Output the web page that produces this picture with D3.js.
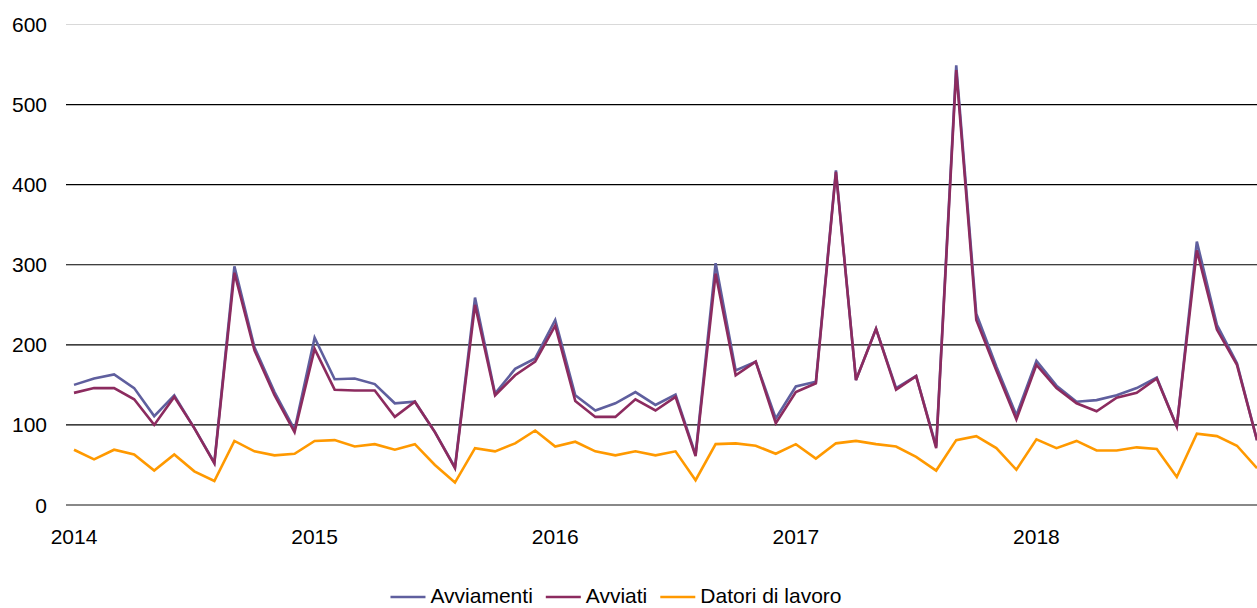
<!DOCTYPE html>
<html>
<head>
<meta charset="utf-8">
<script src="https://cdn.jsdelivr.net/npm/d3@7"></script>
<style>
  body { margin: 0; background: #fff; }
  text { font-family: "Liberation Sans", Arial, sans-serif; fill: #000; }
</style>
</head>
<body>
<div id="chart"></div>
<script>
// monthly values, Jan 2014 .. Dec 2018
var avviamenti = [150, 158, 163, 146, 111, 137, 96, 53, 298, 197, 141, 94,
                  209, 157, 158, 151, 127, 129, 91, 47, 259, 139, 170, 183,
                  231, 137, 118, 127, 141, 125, 138, 63, 302, 168, 179, 108,
                  148, 154, 418, 156, 220, 146, 161, 73, 549, 239, 173, 112,
                  180, 149, 129, 131, 137, 146, 159, 98, 329, 225, 177, 81];
var avviati = [140, 146, 146, 132, 100, 135, 96, 52, 290, 193, 137, 91,
               195, 144, 143, 143, 110, 129, 91, 46, 250, 137, 162, 179,
               224, 130, 110, 110, 132, 118, 135, 61, 289, 162, 179, 102,
               141, 152, 416, 156, 220, 144, 161, 71, 543, 231, 168, 107,
               175, 146, 127, 117, 134, 140, 158, 98, 318, 219, 175, 81];
var datori = [69, 57, 69, 63, 43, 63, 42, 30, 80, 67, 62, 64,
              80, 81, 73, 76, 69, 76, 50, 28, 71, 67, 77, 93,
              73, 79, 67, 62, 67, 62, 67, 31, 76, 77, 74, 64,
              76, 58, 77, 80, 76, 73, 60, 43, 81, 86, 71, 44,
              82, 71, 80, 68, 68, 72, 70, 35, 89, 86, 74, 46];
var years = ["2014", "2015", "2016", "2017", "2018"];
var yTicks = [0, 100, 200, 300, 400, 500, 600];

var series = [
  {name: "Avviamenti", values: avviamenti, color: "#5f5f9e"},
  {name: "Avviati", values: avviati, color: "#8c2b5f"},
  {name: "Datori di lavoro", values: datori, color: "#ff9900"}
];

var width = 1257, height = 608;

var x = d3.scaleLinear().domain([0, 59]).range([74, 1257]);
var y = d3.scaleLinear().domain([0, 600]).range([505, 24.5]);

var svg = d3.select("#chart").append("svg")
    .attr("width", width)
    .attr("height", height);

svg.append("rect").attr("width", width).attr("height", height).attr("fill", "#fff");

// gridlines
svg.append("g").selectAll("line")
    .data(yTicks.filter(function(d) { return d > 0; }))
    .enter().append("line")
    .attr("x1", 66).attr("x2", width)
    .attr("y1", function(d) { return y(d); })
    .attr("y2", function(d) { return y(d); })
    .attr("stroke", function(d) { return d == 600 ? "#d9d9d9" : "#000"; })
    .attr("stroke-width", 1.2);

// zero line
svg.append("line")
    .attr("x1", 66).attr("x2", width)
    .attr("y1", y(0)).attr("y2", y(0))
    .attr("stroke", "#888")
    .attr("stroke-width", 2);

// y labels
svg.append("g").selectAll("text")
    .data(yTicks)
    .enter().append("text")
    .attr("x", 47)
    .attr("y", function(d) { return y(d); })
    .attr("dy", "0.36em")
    .attr("text-anchor", "end")
    .style("font-size", "21px")
    .text(function(d) { return d; });

// x labels
svg.append("g").selectAll("text")
    .data(years)
    .enter().append("text")
    .attr("x", function(d, i) { return x(i * 12); })
    .attr("y", 544)
    .attr("text-anchor", "middle")
    .style("font-size", "21px")
    .text(function(d) { return d; });

var line = d3.line()
    .x(function(d, i) { return x(i); })
    .y(function(d) { return y(d); });

svg.append("g").selectAll("path")
    .data(series)
    .enter().append("path")
    .attr("d", function(s) { return line(s.values); })
    .attr("fill", "none")
    .attr("stroke", function(s) { return s.color; })
    .attr("stroke-width", 2.6)
    .attr("stroke-linejoin", "miter");

// legend
var legend = svg.append("g");
var lx = 0;
series.forEach(function(s) {
  var g = legend.append("g").attr("transform", "translate(" + lx + ",0)");
  g.append("line")
    .attr("x1", 0).attr("x2", 35)
    .attr("y1", 597).attr("y2", 597)
    .attr("stroke", s.color)
    .attr("stroke-width", 2.6);
  var t = g.append("text")
    .attr("x", 40)
    .attr("y", 603)
    .style("font-size", "21px")
    .text(s.name);
  lx += 40 + t.node().getComputedTextLength() + 13;
});
var legendWidth = lx - 13;
legend.attr("transform", "translate(" + (616 - legendWidth / 2) + ",0)");
</script>
</body>
</html>
